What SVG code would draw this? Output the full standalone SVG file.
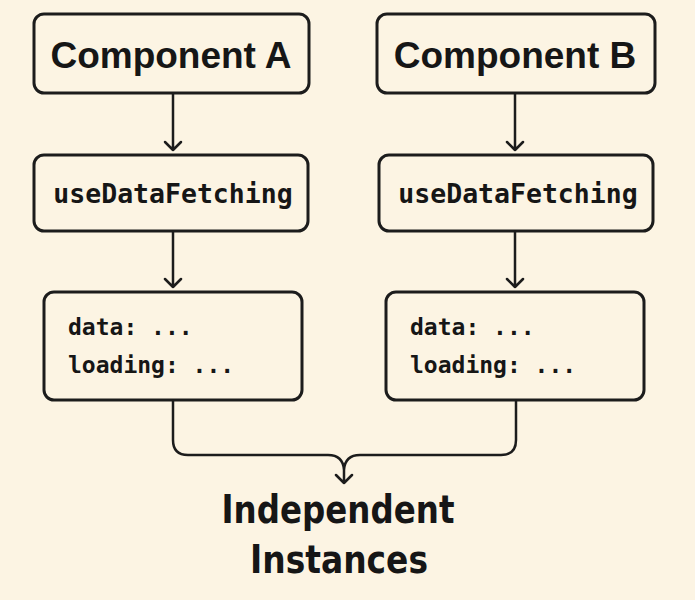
<svg xmlns="http://www.w3.org/2000/svg" width="695" height="600" viewBox="0 0 695 600">
<style>
.box{fill:none;stroke:#1c1c1c;stroke-width:3}
.ln{fill:none;stroke:#1c1c1c;stroke-width:2.5;stroke-linecap:round;stroke-linejoin:round}
.t1{font-family:"Liberation Sans",Arial,sans-serif;font-weight:bold;font-size:37px;fill:#161616;text-anchor:middle}
.mono{font-family:"DejaVu Sans Mono",monospace;font-weight:bold;fill:#161616}
.big{font-family:"DejaVu Sans",sans-serif;font-weight:bold;font-size:39px;fill:#161616;text-anchor:middle}
</style>
<rect width="695" height="600" fill="#fcf4e3"/>
<g id="compA"><rect class="box" x="34" y="14" width="275" height="79" rx="10"/><text class="t1" x="171" y="68">Component A</text></g>
<g id="compB"><rect class="box" x="377" y="14" width="278" height="79" rx="10"/><text class="t1" x="515" y="68">Component B</text></g>
<g id="hookA"><rect class="box" x="34" y="155" width="274" height="76" rx="10"/><text class="mono" x="173" y="203" font-size="26.5" text-anchor="middle">useDataFetching</text></g>
<g id="hookB"><rect class="box" x="379" y="155" width="274" height="76" rx="10"/><text class="mono" x="518" y="203" font-size="26.5" text-anchor="middle">useDataFetching</text></g>
<g id="stateA"><rect class="box" x="44" y="292" width="258" height="108" rx="10"/><text class="mono" x="68" y="335" font-size="23">data: ...</text><text class="mono" x="68" y="373" font-size="23">loading: ...</text></g>
<g id="stateB"><rect class="box" x="386" y="292" width="258" height="108" rx="10"/><text class="mono" x="410" y="335" font-size="23">data: ...</text><text class="mono" x="410" y="373" font-size="23">loading: ...</text></g>
<g id="result"><text class="big" x="338" y="523" textLength="233" lengthAdjust="spacingAndGlyphs">Independent</text><text class="big" x="339" y="573" textLength="178" lengthAdjust="spacingAndGlyphs">Instances</text></g>
<g id="connectors">
<path class="ln" d="M173 94V150M165 142L173 150L181 142"/>
<path class="ln" d="M515 94V150M507 142L515 150L523 142"/>
<path class="ln" d="M173 232V287M165 279L173 287L181 279"/>
<path class="ln" d="M515 232V287M507 279L515 287L523 279"/>
<path class="ln" d="M173 401V440Q173 455 188 455H328Q343 455 344 470V483M336 475L344 483L352 475M344 470Q345 455 360 455H501Q516 455 516 440V401"/>
</g>
</svg>
